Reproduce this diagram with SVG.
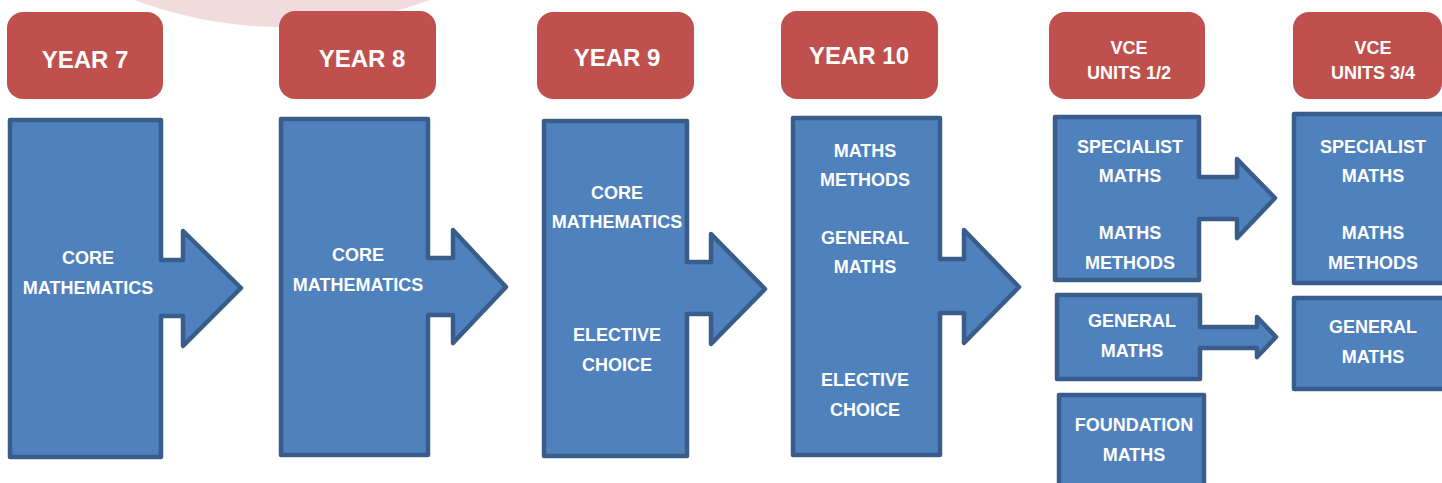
<svg xmlns="http://www.w3.org/2000/svg" width="1442" height="483" viewBox="0 0 1442 483">
<style>
.hdr{fill:#c0504d;}
.box{fill:#4f81bd;stroke:#385d8a;stroke-width:4.5;stroke-linejoin:round;}
.t{font-family:"Liberation Sans",Arial,sans-serif;font-weight:bold;fill:#ffffff;text-anchor:middle;}
.h{font-size:24px;}
.s{font-size:18px;}
</style>
<rect width="1442" height="483" fill="#ffffff"/>
<circle cx="282" cy="-389" r="416" fill="#f2dbdd"/>
<g id="connectors"></g>
<g id="hdr-y7"><rect class="hdr" x="7" y="12" width="156" height="87" rx="16"/><text class="t h" x="85" y="68">YEAR 7</text></g>
<g id="hdr-y8"><rect class="hdr" x="279" y="11" width="157" height="88" rx="16"/><text class="t h" x="362" y="67">YEAR 8</text></g>
<g id="hdr-y9"><rect class="hdr" x="537" y="12" width="157" height="87" rx="16"/><text class="t h" x="617" y="66">YEAR 9</text></g>
<g id="hdr-y10"><rect class="hdr" x="781" y="11" width="157" height="88" rx="16"/><text class="t h" x="859" y="64">YEAR 10</text></g>
<g id="hdr-vce12"><rect class="hdr" x="1049" y="12" width="156" height="87" rx="16"/><text class="t s" x="1129" y="54">VCE</text><text class="t s" x="1129" y="79">UNITS 1/2</text></g>
<g id="hdr-vce34"><rect class="hdr" x="1293" y="12" width="149" height="87" rx="16"/><text class="t s" x="1373" y="54">VCE</text><text class="t s" x="1373" y="79">UNITS 3/4</text></g>

<g id="y7">
<path class="box" d="M10,120 H161 V260 H183 V231 L241,288 L183,346 V316 H161 V457 H10 Z"/>
<text class="t s" x="88" y="264">CORE</text>
<text class="t s" x="88" y="294">MATHEMATICS</text>
</g>
<g id="y8">
<path class="box" d="M281,119 H428 V258 H453 V230 L506,287 L453,343 V315 H428 V455 H281 Z"/>
<text class="t s" x="358" y="261">CORE</text>
<text class="t s" x="358" y="291">MATHEMATICS</text>
</g>
<g id="y9">
<path class="box" d="M544,121 H687 V262 H711 V234 L765,289 L711,344 V314 H687 V456 H544 Z"/>
<text class="t s" x="617" y="199">CORE</text>
<text class="t s" x="617" y="228">MATHEMATICS</text>
<text class="t s" x="617" y="341">ELECTIVE</text>
<text class="t s" x="617" y="371">CHOICE</text>
</g>
<g id="y10">
<path class="box" d="M793,118 H940 V259 H964 V230 L1019,287 L964,343 V313 H940 V455 H793 Z"/>
<text class="t s" x="865" y="157">MATHS</text>
<text class="t s" x="865" y="186">METHODS</text>
<text class="t s" x="865" y="244">GENERAL</text>
<text class="t s" x="865" y="273">MATHS</text>
<text class="t s" x="865" y="386">ELECTIVE</text>
<text class="t s" x="865" y="416">CHOICE</text>
</g>
<g id="vce12-spec">
<path class="box" d="M1055,117 H1199 V177 H1237 V159 L1275,198 L1237,238 V219 H1199 V280 H1055 Z"/>
<text class="t s" x="1130" y="153">SPECIALIST</text>
<text class="t s" x="1130" y="182">MATHS</text>
<text class="t s" x="1130" y="239">MATHS</text>
<text class="t s" x="1130" y="269">METHODS</text>
</g>
<g id="vce12-gen">
<path class="box" d="M1057,295 H1200 V327 H1257 V317 L1276,337 L1257,357 V348 H1200 V379 H1057 Z"/>
<text class="t s" x="1132" y="327">GENERAL</text>
<text class="t s" x="1132" y="357">MATHS</text>
</g>
<g id="vce12-found">
<rect class="box" x="1059" y="395" width="145" height="100"/>
<text class="t s" x="1134" y="431">FOUNDATION</text>
<text class="t s" x="1134" y="461">MATHS</text>
</g>
<g id="vce34-spec">
<rect class="box" x="1294" y="114" width="160" height="169"/>
<text class="t s" x="1373" y="153">SPECIALIST</text>
<text class="t s" x="1373" y="182">MATHS</text>
<text class="t s" x="1373" y="239">MATHS</text>
<text class="t s" x="1373" y="269">METHODS</text>
</g>
<g id="vce34-gen">
<rect class="box" x="1294" y="298" width="160" height="91"/>
<text class="t s" x="1373" y="333">GENERAL</text>
<text class="t s" x="1373" y="363">MATHS</text>
</g>
</svg>
